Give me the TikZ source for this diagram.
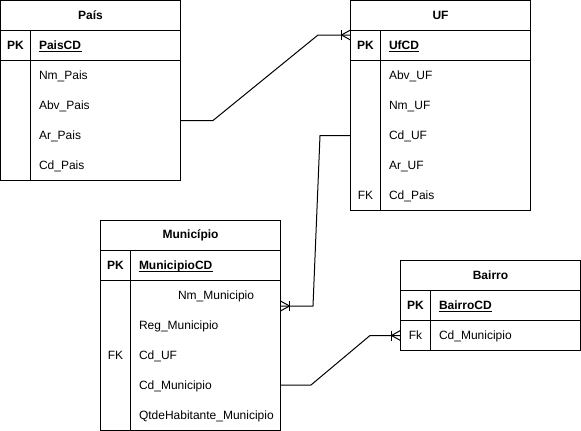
\documentclass[tikz,border=0pt]{standalone}
\usepackage{fontspec}
\setmainfont{Liberation Sans}
\tikzset{
  hdr/.style={draw, rectangle, anchor=north west, minimum width=180pt, minimum height=30pt,
    inner sep=0pt, outer sep=0pt, font=\bfseries\fontsize{12}{14}\selectfont},
  rowbox/.style={draw, rectangle, anchor=north west, minimum width=180pt, minimum height=30pt,
    inner sep=0pt, outer sep=0pt},
  fld/.style={anchor=base west, inner sep=0pt, font=\fontsize{12}{14}\selectfont},
  keylbl/.style={anchor=base, inner sep=0pt, font=\fontsize{12}{14}\selectfont},
  pklbl/.style={anchor=base, inner sep=0pt, font=\bfseries\fontsize{12}{14}\selectfont},
  pkname/.style={anchor=base west, inner sep=0pt, font=\bfseries\fontsize{12}{14}\selectfont},
  link/.style={draw, line width=1pt},
  crowfoot/.pic={
    \draw[line width=1pt] (-9,-5) -- (-9,5);
    \draw[line width=1pt] (-9,0) -- (0,-5);
    \draw[line width=1pt] (-9,0) -- (0,5);
  }
}
\newcommand\ertable[6]{%
  \node[hdr] (#1-t) at (#2,#3) {#4};
  \node[rowbox] (#1-pk) at (#1-t.south west) {};
  \node[rowbox, minimum height=#6] (#1-b) at (#1-pk.south west) {};
  \coordinate (#1-c) at ([xshift=30pt]#1-pk.north west);
  \draw (#1-c) -- (#1-c |- #1-b.south);
  \node[pklbl] (#1-pkl) at ([xshift=15pt,yshift=-4pt]#1-pk.west) {PK};
  \node[pkname] (#1-pkn) at ([xshift=38pt,yshift=-4pt]#1-pk.west) {#5};
  \draw[line width=0.9pt] ([yshift=-1.8pt]#1-pkn.base west) -- ([yshift=-1.8pt]#1-pkn.base east);
}
\begin{document}
\begin{tikzpicture}[x=1pt,y=-1pt,line width=1pt]
\useasboundingbox (0,0) rectangle (581,431);

% País
\ertable{pais}{0.5}{0.5}{País}{PaisCD}{120pt}
\node[fld] (p1) at (38.5,79.5) {Nm\_Pais};
\node[fld] (p2) at (38.5,109.5) {Abv\_Pais};
\node[fld] (p3) at (38.5,139.5) {Ar\_Pais};
\node[fld] (p4) at (38.5,169.5) {Cd\_Pais};

% UF
\ertable{uf}{350.5}{0.5}{UF}{UfCD}{150pt}
\node[fld] (u1) at (388.5,79.5) {Abv\_UF};
\node[fld] (u2) at (388.5,109.5) {Nm\_UF};
\node[fld] (u3) at (388.5,139.5) {Cd\_UF};
\node[fld] (u4) at (388.5,169.5) {Ar\_UF};
\node[fld] (u5) at (388.5,199.5) {Cd\_Pais};
\node[keylbl] (u5k) at (365.5,199.5) {FK};

% Município
\ertable{mun}{100.5}{220.5}{Município}{MunicipioCD}{150pt}
\node[fld] (m1) at (177.5,299.5) {Nm\_Municipio};
\node[fld] (m2) at (138.5,329.5) {Reg\_Municipio};
\node[fld] (m3) at (138.5,359.5) {Cd\_UF};
\node[fld] (m4) at (138.5,389.5) {Cd\_Municipio};
\node[fld] (m5) at (138.5,419.5) {QtdeHabitante\_Municipio};
\node[keylbl] (m3k) at (115.5,359.5) {FK};

% Bairro
\ertable{bai}{400.5}{260.5}{Bairro}{BairroCD}{30pt}
\node[fld] (b1) at (438.5,339.5) {Cd\_Municipio};
\node[keylbl] (b1k) at (415.5,339.5) {Fk};

% connectors
\coordinate (ufIn) at (350.5,35);
\draw[link] (pais-b.east) -- (213,120.5) -- (318,35) -- (ufIn);
\pic at (ufIn) {crowfoot};

\coordinate (munIn) at (280.5,306);
\draw[link] (uf-b.west) -- (320,135.5) -- (313,306) -- (munIn);
\pic[xscale=-1] at (munIn) {crowfoot};

\coordinate (munOut) at (280.5,385);
\draw[link] (munOut) -- (311,385) -- (370,335.5) -- (bai-b.west);
\pic at (bai-b.west) {crowfoot};
\end{tikzpicture}
\end{document}
